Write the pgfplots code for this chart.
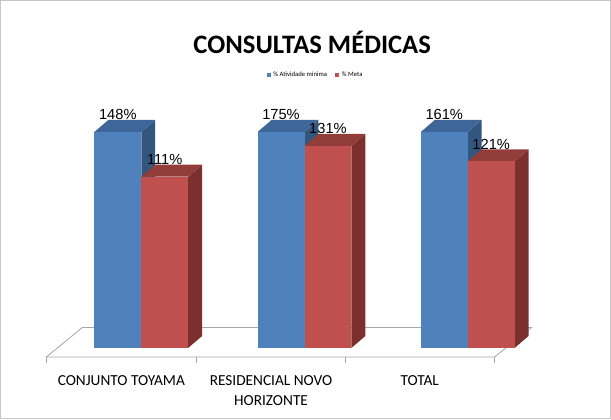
\documentclass[border=0pt]{standalone}
\usepackage{pgfplots}
\usepackage{pgfplotstable}
\pgfplotsset{compat=1.18}
\usepackage{fontspec}
\setmainfont{Carlito}
\newfontfamily\arialfont{Liberation Sans}

\definecolor{bfront}{HTML}{4F81BD}
\definecolor{btop}{HTML}{3E6698}
\definecolor{bside}{HTML}{33567F}
\definecolor{rfront}{HTML}{C0504D}
\definecolor{rtop}{HTML}{933D3A}
\definecolor{rside}{HTML}{7B302E}
\definecolor{floorgray}{HTML}{A6A6A6}

% values in %
\pgfplotstableread{
x act meta
0 148 111
1 175 131
2 161 121
}\data

\def\bw{0.2875}
\def\ddx{0.0856}
\def\ddy{7.77}
\def\ycap{140}

\newcommand\cuboid[3]{%
  \pgfmathsetmacro\cxa{#1}%
  \pgfmathsetmacro\cxb{#1+\bw}%
  \pgfmathsetmacro\cxc{#1+\bw+\ddx}%
  \pgfmathsetmacro\cxd{#1+\ddx}%
  \pgfmathsetmacro\chh{min(#2,\ycap)}%
  \pgfmathsetmacro\chtop{\chh+\ddy}%
  \edef\cubcmd{%
    \noexpand\addplot[fill=#3side, draw=none, mark=none] coordinates {(\cxb,0) (\cxc,\ddy) (\cxc,\chtop) (\cxb,\chh)} -- cycle;
    \noexpand\addplot[fill=#3top, draw=none, mark=none] coordinates {(\cxa,\chh) (\cxb,\chh) (\cxc,\chtop) (\cxd,\chtop)} -- cycle;
    \noexpand\addplot[fill=#3front, draw=none, mark=none] coordinates {(\cxa,0) (\cxb,0) (\cxb,\chh) (\cxa,\chh)} -- cycle;
  }\cubcmd
}

\begin{document}
\begin{tikzpicture}
\begin{axis}[
  width=458.25pt, height=314.25pt, scale only axis,
  xmin=-0.8624, xmax=2.8746, ymin=-45.95, ymax=225.24,
  hide axis, clip=false,
  /pgf/number format/assume math mode=true,
  legend style={at={(0.517,0.821)}, anchor=center, draw=none, fill=none,
    font=\fontsize{5}{6}\selectfont, inner sep=0pt,
    /tikz/every even column/.append style={column sep=4pt}},
  legend columns=2,
  legend image code/.code={\fill[#1] (0pt,-1.6pt) rectangle (3.2pt,1.6pt);},
]
\addlegendimage{fill=bfront, draw=none}
\addlegendentry{\% Atividade mínima}
\addlegendimage{fill=rfront, draw=none}
\addlegendentry{\% Meta}

% floor
\addplot[draw=floorgray, fill=white, line width=0.6pt, mark=none]
  coordinates {(-0.581,-5.83) (2.165,-5.83) (2.391,13.27) (-0.361,13.27)} -- cycle;
\pgfplotsinvokeforeach{-0.581,0.336,1.248,2.165}{
  \addplot[floorgray, line width=0.6pt, mark=none] coordinates {(#1,-5.83) (#1,-9.7)};
}

% bars
\pgfplotsinvokeforeach{0,1,2}{
  \pgfplotstablegetelem{#1}{act}\of\data \let\va\pgfplotsretval
  \pgfplotstablegetelem{#1}{meta}\of\data \let\vm\pgfplotsretval
  \cuboid{#1-\bw}{\va}{b}
  \cuboid{#1}{\vm}{r}
}

% value labels
\addplot[draw=none, mark=none, point meta=\thisrow{act},
  nodes near coords={\pgfmathprintnumber{\pgfplotspointmeta}\%},
  every node near coord/.append style={anchor=south, yshift=-3.5pt,
    font=\arialfont\fontsize{11}{12}\selectfont}]
  table[x expr=\thisrow{x}-\bw/2, y expr={min(\thisrow{act},\ycap)+\ddy}] {\data};
\addplot[draw=none, mark=none, point meta=\thisrow{meta},
  nodes near coords={\pgfmathprintnumber{\pgfplotspointmeta}\%},
  every node near coord/.append style={anchor=south, yshift=-3.5pt,
    font=\arialfont\fontsize{11}{12}\selectfont}]
  table[x expr=\thisrow{x}+\bw/2, y expr={min(\thisrow{meta},\ycap)+\ddy}] {\data};

% category labels
\addplot[draw=none, mark=none, point meta=explicit symbolic,
  nodes near coords,
  every node near coord/.style={anchor=north, align=center,
    font=\fontsize{11.5}{15}\selectfont}]
  coordinates {(-0.122,-14.9) [CONJUNTO TOYAMA] (0.795,-14.9) [RESIDENCIAL NOVO\\HORIZONTE] (1.706,-14.9) [TOTAL]};

\node[font=\bfseries\fontsize{20}{24}\selectfont] at (rel axis cs:0.511,0.9) {CONSULTAS MÉDICAS};
\draw[gray!45, line width=0.75pt] (rel axis cs:0,0) rectangle (rel axis cs:1,1);
\end{axis}
\end{tikzpicture}
\end{document}
